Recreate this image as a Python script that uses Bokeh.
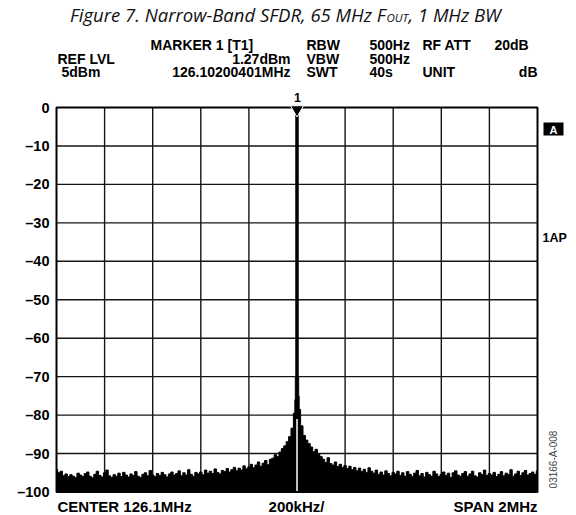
import math
import numpy as np
from bokeh.plotting import figure
from bokeh.models import Range1d
from bokeh.core.properties import value
from bokeh.embed import file_html
from bokeh.resources import INLINE

# ---------------- data ----------------
y_ticks = [0, -10, -20, -30, -40, -50, -60, -70, -80, -90, -100]
y_tick_labels = ["0", "–10", "–20", "–30", "–40", "–50", "–60", "–70", "–80", "–90", "–100"]
x_grid_khz = [-800, -600, -400, -200, 0, 200, 400, 600, 800]
span_khz = [-1000, 1000]
level_range_db = [-100, 0]

# noise trace, offsets -1000 .. -10 kHz (10 kHz steps)
noise_left_db = [
    -94.2, -95.0, -94.6, -95.8, -95.3, -96.0, -95.5, -95.9, -96.2, -95.1,
    -95.6, -96.0, -95.2, -94.8, -95.9, -96.3, -95.4, -94.6, -95.7, -96.1,
    -95.0, -94.3, -95.8, -96.2, -95.5, -95.9, -95.1, -96.0, -94.9, -95.6,
    -96.1, -95.3, -95.7, -94.7, -95.9, -96.2, -95.4, -95.0, -95.8, -94.4,
    -95.6, -96.0, -95.2, -95.7, -94.9, -95.5, -96.1, -95.3, -94.8, -95.6,
    -95.2, -94.5, -95.8, -95.0, -95.6, -94.2, -95.4, -95.9, -94.9, -95.3,
    -94.8, -95.5, -94.3, -95.1, -94.6, -95.2, -94.0, -94.9, -95.3, -94.4,
    -94.7, -93.9, -94.8, -94.2, -93.6, -94.5, -93.8, -94.3, -93.2, -94.0,
    -93.5, -92.8, -93.7, -93.0, -92.2, -93.3, -92.5, -91.8, -92.9, -91.5,
    -91.2, -90.3, -90.8, -89.6, -88.7, -88.0, -86.9, -85.6, -83.4, -79.5,
]
# carrier (marker 1 at 126.102 MHz), trace clipped at the top graticule line
carrier_khz = [-8, -6, -4, -2, 0, 2, 4, 6, 8]
carrier_db = [-76.0, -70.0, 0.0, 0.0, 0.0, 0.0, 0.0, -70.0, -75.0]
# noise trace, offsets +10 .. +1000 kHz
noise_right_db = [
    -78.5, -82.8, -85.3, -86.5, -87.4, -88.3, -89.5, -88.9, -90.2, -90.8,
    -91.5, -92.3, -91.1, -92.6, -93.0, -92.2, -93.4, -92.8, -93.6, -93.1,
    -93.9, -93.3, -94.2, -93.6, -94.5, -93.8, -94.7, -94.1, -94.9, -93.7,
    -94.6, -95.1, -94.3, -95.4, -94.8, -95.6, -94.5, -95.2, -95.8, -94.9,
    -95.3, -94.6, -95.7, -95.0, -95.9, -94.7, -95.4, -96.0, -95.1, -94.4,
    -95.8, -95.2, -96.1, -94.9, -95.5, -95.9, -94.6, -95.3, -96.0, -95.4,
    -94.8, -95.7, -95.1, -96.2, -95.0, -94.5, -95.6, -95.9, -95.2, -94.7,
    -95.9, -95.3, -94.6, -95.8, -96.1, -95.0, -95.5, -94.3, -95.7, -95.2,
    -95.6, -94.9, -96.0, -95.4, -94.7, -95.8, -95.1, -95.5, -94.2, -95.9,
    -95.3, -94.6, -95.7, -95.0, -94.4, -95.6, -95.2, -94.8, -95.4, -94.5,
]
marker_khz = [0]
marker_db = [0.0]

left_khz = list(np.arange(-1000, 0, 10))
right_khz = list(np.arange(10, 1010, 10))
freq_khz = left_khz + carrier_khz + right_khz
level_db = noise_left_db + carrier_db + noise_right_db

# ---------------- layout (pixels) ----------------
W, H = 576, 515
FL, FR, FT, FB = 56, 537, 107, 491.5   # graticule edges in px
kx = (span_khz[1] - span_khz[0]) / (FR - FL)            # kHz per px
ky = (level_range_db[1] - level_range_db[0]) / (FB - FT)  # dB per px

x_range = Range1d(span_khz[0] - FL * kx, span_khz[1] + (W - FR) * kx)
y_range = Range1d(level_range_db[0] - (H - FB) * ky, level_range_db[1] + FT * ky)

p = figure(width=W, height=H, output_backend="svg", toolbar_location=None,
           x_range=x_range, y_range=y_range,
           min_border=0, min_border_left=0, min_border_right=0,
           min_border_top=0, min_border_bottom=0)
p.axis.visible = False
p.grid.visible = False
p.outline_line_color = None
p.background_fill_color = "white"
p.border_fill_color = "white"


def dx(px):
    return span_khz[0] + (px - FL) * kx


def dy(py):
    return level_range_db[0] + (FB - py) * ky


x0, x1 = span_khz
y0, y1 = level_range_db

# graticule
p.segment(x0=x_grid_khz, y0=[y0] * len(x_grid_khz), x1=x_grid_khz, y1=[y1] * len(x_grid_khz),
          line_color="#151515", line_width=1.4)
hy = y_ticks[1:-1]
p.segment(x0=[x0] * len(hy), y0=hy, x1=[x1] * len(hy), y1=hy,
          line_color="#151515", line_width=1.4)

# spectrum trace
p.varea_step(x=freq_khz, y1=[y0] * len(freq_khz), y2=level_db, step_mode="center",
             fill_color="black")
p.step(x=freq_khz, y=level_db, mode="center", line_color="black", line_width=1.0)
# marker line inside the trace
p.segment(x0=marker_khz, y0=[y0], x1=marker_khz, y1=[-81], line_color="white", line_width=1.5)

# frame
p.quad(left=[x0], right=[x1], bottom=[y0], top=[y1], fill_color=None,
       line_color="black", line_width=2)

# y tick labels
p.text(x=[x0] * len(y_ticks), y=y_ticks, text=y_tick_labels, x_offset=-7,
       text_align="right", text_baseline="middle", text_font=value("Liberation Sans"),
       text_font_style="bold", text_font_size="14.5px", text_color="black")

# marker 1 triangle
p.scatter(x=marker_khz, y=[marker_db[0] - 2 * ky], marker="inverted_triangle", size=13,
          fill_color="black", line_color="white", line_width=1)


def lab(text, x, y, align="left", size=14, style="bold", color="black",
        font="Liberation Sans", angle=0.0, baseline="middle"):
    p.text(x=[dx(x)], y=[dy(y)], text=[text], text_align=align, text_baseline=baseline,
           text_font=value(font), text_font_style=style, text_font_size=f"{size}px",
           text_color=color, angle=angle)


# title
TF = "Open Sans"
lab("Figure 7. Narrow-Band SFDR, 65 MHz F", 385, 14, align="right", size=18.5,
    style="italic", font=TF, color="#111111")
lab("OUT", 386, 17, size=11.5, style="italic", font=TF, color="#111111")
lab(", 1 MHz BW", 408, 14, size=18.5, style="italic", font=TF, color="#111111")

# header rows
r1, r2, r3 = 44, 58, 71.5
lab("MARKER 1 [T1]", 150, r1)
lab("RBW", 306, r1)
lab("500Hz", 369, r1)
lab("RF ATT", 422, r1)
lab("20dB", 494, r1)
lab("REF LVL", 57, r2)
lab("1.27dBm", 290, r2, align="right")
lab("VBW", 306, r2)
lab("500Hz", 369, r2)
lab("5dBm", 61, r3)
lab("126.10200401MHz", 290, r3, align="right")
lab("SWT", 306, r3)
lab("40s", 369, r3)
lab("UNIT", 422, r3)
lab("dB", 537, r3, align="right")

# marker number
lab("1", 297, 97, align="center", size=12.5)

# bottom labels
lab("CENTER 126.1MHz", 57, 505.5, size=15)
lab("200kHz/", 296, 505.5, align="center", size=15)
lab("SPAN 2MHz", 537, 505.5, align="right", size=15)

# right side annotations
p.rect(x=[dx(553)], y=[dy(128.5)], width=20, height=13, width_units="screen",
       height_units="screen", fill_color="black", line_color=None)
lab("A", 553, 129, align="center", size=11, color="white")
lab("1AP", 542, 237, size=12.5)
lab("03166-A-008", 553, 459, align="center", size=10, style="normal",
    color="#444444", angle=math.pi / 2)

open("out.html", "w").write(file_html(p, INLINE))
